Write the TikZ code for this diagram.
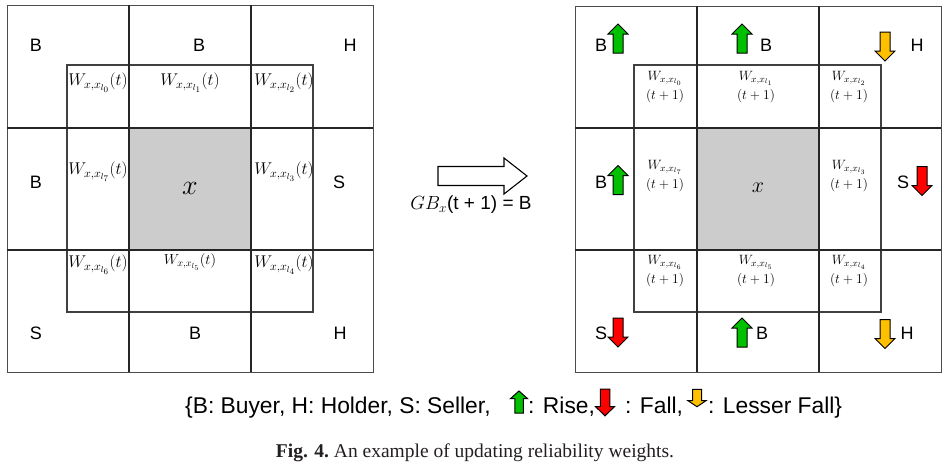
\RequirePackage{fix-cm}
\documentclass[tikz,border=0pt]{standalone}
\usepackage{fontspec}
\setsansfont{Liberation Sans}
\newfontfamily\capfont{Liberation Serif}
\definecolor{risegreen}{HTML}{00C000}
\definecolor{fallred}{HTML}{FF0000}
\definecolor{lessyellow}{HTML}{FFC000}
\definecolor{cellgray}{HTML}{CCCCCC}
\definecolor{capcol}{HTML}{231F20}
\tikzset{
  gridthick/.style={line width=1.6pt, draw=black!85},
  outerline/.style={line width=0.9pt, draw=black!70},
  innerline/.style={line width=1.3pt, draw=black!75},
  letter/.style={font=\sffamily\fontsize{18}{20}\selectfont, inner sep=0},
  wlab/.style={font=\fontsize{17}{20}\selectfont, inner sep=0},
  wsmall/.style={font=\fontsize{13.5}{19}\selectfont, inner sep=0, align=center},
  arrowline/.style={line width=1pt, draw=black, line join=miter},
  legend/.style={font=\sffamily\fontsize{22.8}{25}\selectfont, inner sep=0, anchor=base west},
}
\newcommand\ArrUp[4][]{\draw[arrowline, fill=#4, shift={(#2,#3)}, #1]
  (-5,14.5) -- (-5,-4.5) -- (-10,-4.5) -- (0,-14.5) -- (10,-4.5) -- (5,-4.5) -- (5,14.5) -- cycle;}
\newcommand\ArrDown[4][]{\draw[arrowline, fill=#4, shift={(#2,#3)}, #1]
  (-5,-14.5) -- (-5,4.5) -- (-10,4.5) -- (0,14.5) -- (10,4.5) -- (5,4.5) -- (5,-14.5) -- cycle;}
\begin{document}
\begin{tikzpicture}[x=1pt, y=-1pt]
\useasboundingbox (0,0) rectangle (949,464);
% ---------- left grid ----------
\fill[cellgray] (129,128) rectangle (251,250);
\draw[outerline] (7,5) rectangle (373,372);
\draw[innerline] (67,65) rectangle (313,312);
\draw[gridthick] (129,5) -- (129,372) (251,5) -- (251,372)
                 (7,128) -- (373,128) (7,250) -- (373,250);
\node[letter] (lB1) at (36,45) {B};
\node[letter] (lB2) at (199,45) {B};
\node[letter] (lH1) at (350,45) {H};
\node[letter] (lB3) at (36,182) {B};
\node[letter] (lS1) at (339,182) {S};
\node[letter] (lS2) at (36,333) {S};
\node[letter] (lB4) at (195,333) {B};
\node[letter] (lH2) at (340,333) {H};
\node[wlab] (w0) at (98,83) {$W_{x,x_{l_0}}(t)$};
\node[wlab] (w1) at (190,83) {$W_{x,x_{l_1}}(t)$};
\node[wlab] (w2) at (284,83) {$W_{x,x_{l_2}}(t)$};
\node[wlab] (w7) at (98,172) {$W_{x,x_{l_7}}(t)$};
\node[wlab] (w3) at (284,172) {$W_{x,x_{l_3}}(t)$};
\node[wlab] (w6) at (98,265) {$W_{x,x_{l_6}}(t)$};
\node[wlab, font=\fontsize{14.5}{17}\selectfont] (w5) at (190,262) {$W_{x,x_{l_5}}(t)$};
\node[wlab] (w4) at (284,265) {$W_{x,x_{l_4}}(t)$};
\node[inner sep=0, font=\fontsize{28}{30}\selectfont] (lx) at (190,188) {$x$};
% ---------- transition arrow ----------
\draw[line width=1.1pt, fill=white, line join=miter] (438,166.5) -- (504,166.5) -- (504,158) -- (527,176) -- (504,194) -- (504,185.5) -- (438,185.5) -- cycle;
\node[inner sep=0, font=\sffamily\fontsize{19}{21}\selectfont] (gb) at (471,205) {$GB_x$(t + 1) = B};
% ---------- right grid ----------
\fill[cellgray] (697,128) rectangle (819,250);
\draw[outerline] (575,6) rectangle (941,372);
\draw[innerline] (634,65) rectangle (881,312);
\draw[gridthick] (697,6) -- (697,372) (819,6) -- (819,372)
                 (575,128) -- (941,128) (575,250) -- (941,250);
\node[wsmall] (r0) at (665,87) {$W_{x,x_{l_0}}$\\$(t+1)$};
\node[wsmall] (r1) at (756,87) {$W_{x,x_{l_1}}$\\$(t+1)$};
\node[wsmall] (r2) at (849,87) {$W_{x,x_{l_2}}$\\$(t+1)$};
\node[wsmall] (r7) at (665,176) {$W_{x,x_{l_7}}$\\$(t+1)$};
\node[wsmall] (r3) at (849,176) {$W_{x,x_{l_3}}$\\$(t+1)$};
\node[wsmall] (r6) at (665,271) {$W_{x,x_{l_6}}$\\$(t+1)$};
\node[wsmall] (r5) at (756,271) {$W_{x,x_{l_5}}$\\$(t+1)$};
\node[wsmall] (r4) at (849,271) {$W_{x,x_{l_4}}$\\$(t+1)$};
\node[inner sep=0, font=\fontsize{22}{24}\selectfont] (rx) at (758,188) {$x$};
\node[letter] (rB1) at (601,45) {B};
\ArrUp{618}{38.5}{risegreen}
\ArrUp{742}{38.5}{risegreen}
\node[letter] (rB2) at (766,45) {B};
\ArrDown{885}{46.5}{lessyellow}
\node[letter] (rH1) at (917,45) {H};
\node[letter] (rB3) at (601,182) {B};
\ArrUp{618}{180}{risegreen}
\node[letter] (rS1) at (903,182) {S};
\ArrDown{922}{181}{fallred}
\node[letter] (rS2) at (601,333) {S};
\ArrDown{618}{332.5}{fallred}
\ArrUp{742}{332.5}{risegreen}
\node[letter] (rB4) at (762,333) {B};
\ArrDown{885}{334}{lessyellow}
\node[letter] (rH2) at (907,333) {H};
% ---------- legend ----------
\node[legend] (leg1) at (185,413) {\{B: Buyer, H: Holder, S: Seller,};
\ArrUp[xscale=0.85, yscale=0.76]{519}{402}{risegreen}
\node[legend] (leg2) at (528,413) {: Rise,};
\ArrDown[xscale=0.95, yscale=0.92]{605}{402.5}{fallred}
\node[legend] (leg3) at (625,413) {: Fall,};
\ArrDown[xscale=0.9, yscale=0.6]{697}{398}{lessyellow}
\node[legend] (leg4) at (708,413) {: Lesser Fall\}};
% ---------- caption ----------
\node[inner sep=0, anchor=base, text=capcol, font=\capfont\fontsize{19.5}{22}\selectfont] (cap) at (475,457) {\textbf{Fig. 4.}\ An example of updating reliability weights.};
\end{tikzpicture}
\end{document}
